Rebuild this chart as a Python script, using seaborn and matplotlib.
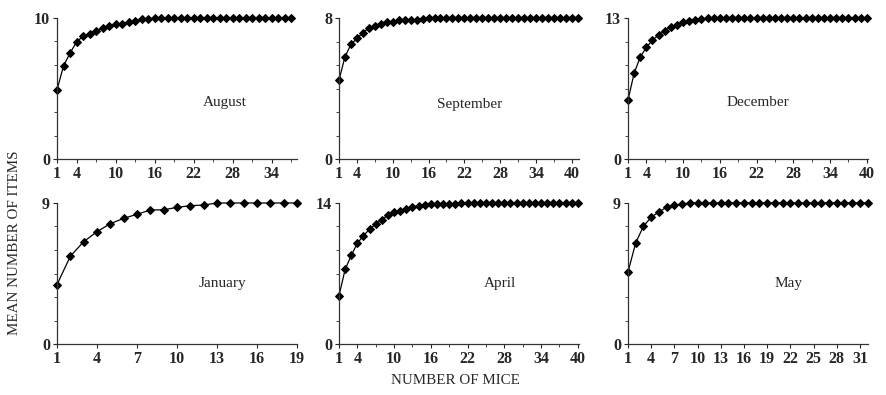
import matplotlib
matplotlib.use('Agg')
import matplotlib.pyplot as plt
import seaborn as sns
import pandas as pd
import numpy as np
from matplotlib.ticker import FixedLocator

sns.set_style('ticks')
plt.rcParams['font.family'] = ['Liberation Serif', 'DejaVu Serif']

# mean number of items vs number of mice
august = [4.9, 6.6, 7.5, 8.3, 8.7, 8.9, 9.1, 9.3, 9.45, 9.55, 9.6, 9.7, 9.8, 9.9, 9.93] + [10.0] * 22
september = [4.47, 5.8, 6.5, 6.84, 7.17, 7.42, 7.55, 7.67, 7.75, 7.8, 7.9, 7.9, 7.9, 7.9, 7.95] + [8.0] * 26
december = [5.44, 7.9, 9.4, 10.3, 10.95, 11.45, 11.8, 12.2, 12.4, 12.6, 12.7, 12.8, 12.9] + [13.0] * 27
january = [3.79, 5.6, 6.53, 7.17, 7.68, 8.02, 8.28, 8.55, 8.57, 8.72, 8.83, 8.87] + [9.0] * 7
april = [4.8, 7.4, 8.8, 10.0, 10.76, 11.4, 11.9, 12.36, 12.8, 13.1, 13.2, 13.4, 13.6, 13.75, 13.8,
         13.9, 13.9, 13.9, 13.95, 13.95] + [14.0] * 20
may = [4.6, 6.46, 7.52, 8.09, 8.43, 8.73, 8.86, 8.94] + [9.0] * 24

months = ['August', 'September', 'December', 'January', 'April', 'May']
series = [august, september, december, january, april, may]
ymax = [10, 8, 13, 9, 14, 9]
xticks = [[1, 4, 10, 16, 22, 28, 34],
          [1, 4, 10, 16, 22, 28, 34, 40],
          [1, 4, 10, 16, 22, 28, 34, 40],
          [1, 4, 7, 10, 13, 16, 19],
          [1, 4, 10, 16, 22, 28, 34, 40],
          [1, 4, 7, 10, 13, 16, 19, 22, 25, 28, 31]]
xright = [37.9, 41.2, 40.2, 19.0, 40.2, 32.05]
label_pos = [(0.70, 0.40), (0.545, 0.39), (0.54, 0.40), (0.69, 0.43), (0.67, 0.43), (0.67, 0.43)]

W, H = 887, 395
fig = plt.figure(figsize=(W / 100, H / 100), dpi=100)

lefts = [57, 339, 628]
rows = [(18, 159), (203, 344)]   # (top, bottom) in pixels
aw = 240

for i, (name, vals) in enumerate(zip(months, series)):
    r, c = divmod(i, 3)
    top, bot = rows[r]
    ax = fig.add_axes([lefts[c] / W, (H - bot) / H, aw / W, (bot - top) / H])
    df = pd.DataFrame({'mice': np.arange(1, len(vals) + 1), 'items': vals})
    sns.lineplot(data=df, x='mice', y='items', ax=ax, color='black', lw=0.9,
                 marker='D', markersize=4.3, markeredgecolor='black', clip_on=False)
    ax.set_xlim(1, xright[i])
    ax.set_ylim(0, ymax[i])
    ax.set_xticks(xticks[i])
    ax.set_yticks([0, ymax[i]])
    ax.yaxis.set_minor_locator(FixedLocator(np.linspace(0, ymax[i], 7)))
    ax.xaxis.set_minor_locator(FixedLocator(np.arange(1, xright[i], 3)))
    ax.tick_params(axis='both', which='major', labelsize=11.5, length=3, width=0.8, pad=2)
    ax.tick_params(axis='both', which='minor', length=2, width=0.6)
    for lab in ax.get_xticklabels() + ax.get_yticklabels():
        lab.set_fontweight('bold')
    ax.set_xlabel('')
    ax.set_ylabel('')
    sns.despine(ax=ax)
    for sp in ['left', 'bottom']:
        ax.spines[sp].set_linewidth(0.9)
        ax.spines[sp].set_color('#333333')
    ax.text(label_pos[i][0], label_pos[i][1], name, transform=ax.transAxes,
            ha='center', va='center', fontsize=11)

fig.text(15 / W, 1 - 243 / H, 'MEAN NUMBER OF ITEMS', rotation=90, ha='center', va='center', fontsize=10.8)
fig.text(455 / W, 1 - 381 / H, 'NUMBER OF MICE', ha='center', va='center', fontsize=10.8)

fig.savefig('out.png', dpi=100)
